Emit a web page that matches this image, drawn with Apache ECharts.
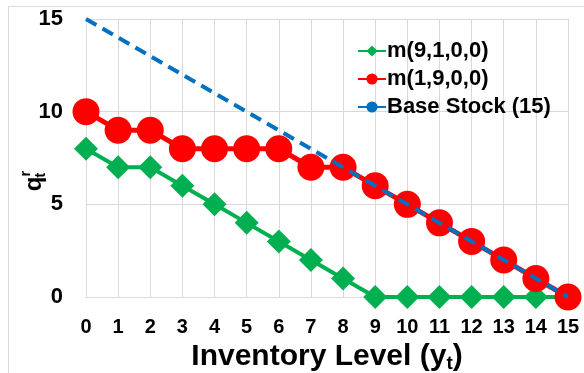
<!DOCTYPE html>
<html>
<head>
<meta charset="utf-8">
<script src="https://cdn.jsdelivr.net/npm/echarts@6/dist/echarts.min.js"></script>
<style>
  html, body { margin: 0; padding: 0; background: #fff; }
  #chart { width: 584px; height: 373px; }
</style>
</head>
<body>
<div id="chart"></div>
<script>
var levels = ['0', '1', '2', '3', '4', '5', '6', '7', '8', '9', '10', '11', '12', '13', '14', '15'];
var m9100 = [8, 7, 7, 6, 5, 4, 3, 2, 1, 0, 0, 0, 0, 0, 0, 0];
var m1900 = [10, 9, 9, 8, 8, 8, 8, 7, 7, 6, 5, 4, 3, 2, 1, 0];
var baseStock = [15, 14, 13, 12, 11, 10, 9, 8, 7, 6, 5, 4, 3, 2, 1, 0];

var myChart = echarts.init(document.getElementById('chart'));
var font = 'Liberation Sans, Arial, sans-serif';

var option = {
    animation: false,
    textStyle: { fontFamily: font },
    graphic: [{
        type: 'rect',
        shape: { x: 8.5, y: 6.5, width: 640, height: 420 },
        style: { fill: 'none', stroke: '#d9d9d9', lineWidth: 1 },
        silent: true
    }, {
        // y axis title q^r_t, rotated
        type: 'text',
        x: 34,
        y: 182,
        rotation: Math.PI / 2,
        style: {
            text: '{a|q}{u|r}{d|t}',
            align: 'center',
            verticalAlign: 'middle',
            rich: {
                a: { fontSize: 24, fontWeight: 'bold', fill: '#000', fontFamily: font },
                u: { fontSize: 15, fontWeight: 'bold', fill: '#000', fontFamily: font, padding: [0, 0, 16, 0] },
                d: { fontSize: 15, fontWeight: 'bold', fill: '#000', fontFamily: font, padding: [14, 0, 0, -7] }
            }
        },
        silent: true
    }],
    grid: { left: 86, right: 16, top: 19, bottom: 76, containLabel: false, outerBoundsMode: 'none' },
    legend: {
        orient: 'vertical',
        left: 352,
        top: 35,
        itemGap: 6,
        itemWidth: 28,
        itemHeight: 14,
        textStyle: { fontSize: 22, fontWeight: 'bold', color: '#000', fontFamily: font, padding: [0, 0, 0, -4] },
        data: ['m(9,1,0,0)', 'm(1,9,0,0)', 'Base Stock (15)']
    },
    xAxis: {
        type: 'category',
        data: levels,
        boundaryGap: false,
        name: '{a|Inventory Level (y}{s|t}{a|)}',
        nameLocation: 'middle',
        nameGap: 39,
        nameTextStyle: {
            rich: {
                a: { fontSize: 30, fontWeight: 'bold', color: '#000', fontFamily: font },
                s: { fontSize: 19, fontWeight: 'bold', color: '#000', fontFamily: font, verticalAlign: 'bottom', padding: [13, 0, 0, 0] }
            }
        },
        axisLine: { show: true, lineStyle: { color: '#d9d9d9', width: 1 } },
        axisTick: { show: false },
        axisLabel: { fontSize: 20, fontWeight: 'bold', color: '#000', margin: 20, interval: 0 },
        splitLine: { show: true, lineStyle: { color: '#d9d9d9' } }
    },
    yAxis: {
        type: 'value',
        min: 0,
        max: 15,
        interval: 5,
        axisLine: { show: true, lineStyle: { color: '#d9d9d9', width: 1 } },
        axisTick: { show: false },
        axisLabel: { fontSize: 22, fontWeight: 'bold', color: '#000', margin: 23 },
        splitLine: { show: true, lineStyle: { color: '#d9d9d9' } }
    },
    series: [{
        name: 'm(9,1,0,0)',
        type: 'line',
        data: m9100,
        symbol: 'diamond',
        symbolSize: 24,
        itemStyle: { color: '#00B050' },
        lineStyle: { color: '#00B050', width: 4 },
        z: 2
    }, {
        name: 'm(1,9,0,0)',
        type: 'line',
        data: m1900,
        symbol: 'circle',
        symbolSize: 27,
        itemStyle: { color: '#FF0000' },
        lineStyle: { color: '#FF0000', width: 5 },
        z: 3
    }, {
        name: 'Base Stock (15)',
        type: 'line',
        data: baseStock,
        symbol: 'none',
        itemStyle: { color: '#0070C0' },
        lineStyle: { color: '#0070C0', width: 4, type: [12, 7] },
        z: 4
    }]
};
myChart.setOption(option);
</script>
</body>
</html>
